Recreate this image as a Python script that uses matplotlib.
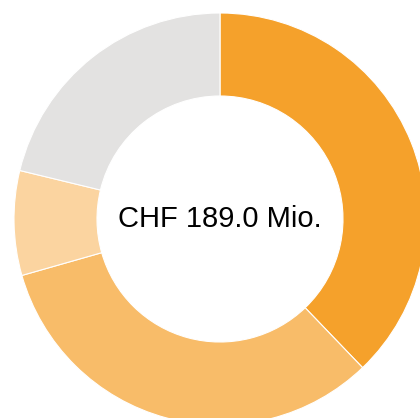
import matplotlib.pyplot as plt

# Anteile in Mio. CHF (im Uhrzeigersinn ab 12 Uhr)
labels = ["Segment A", "Segment B", "Segment C", "Segment D"]
values = [71.5, 61.9, 15.5, 40.1]
colors = ["#F5A12B", "#F8BC69", "#FBD4A0", "#E3E2E1"]
total_text = "CHF 189.0 Mio."

fig = plt.figure(figsize=(4.2, 4.18), dpi=100)
ax = fig.add_axes([0, 0, 1, 1])

# Ring, Mittelpunkt bei (220, 200) in Pixelkoordinaten
outer = 206
inner = 123
ax.pie(
    values,
    colors=colors,
    radius=outer,
    startangle=90,
    counterclock=False,
    wedgeprops=dict(width=outer - inner, edgecolor="white", linewidth=0.8),
)

ax.text(0, 0, total_text, ha="center", va="center",
        fontsize=21, family="Liberation Sans", color="black")

ax.set_xlim(-220, 200)
ax.set_ylim(-199, 219)
ax.set_aspect("equal")
ax.axis("off")

plt.savefig("out.png", dpi=100)
